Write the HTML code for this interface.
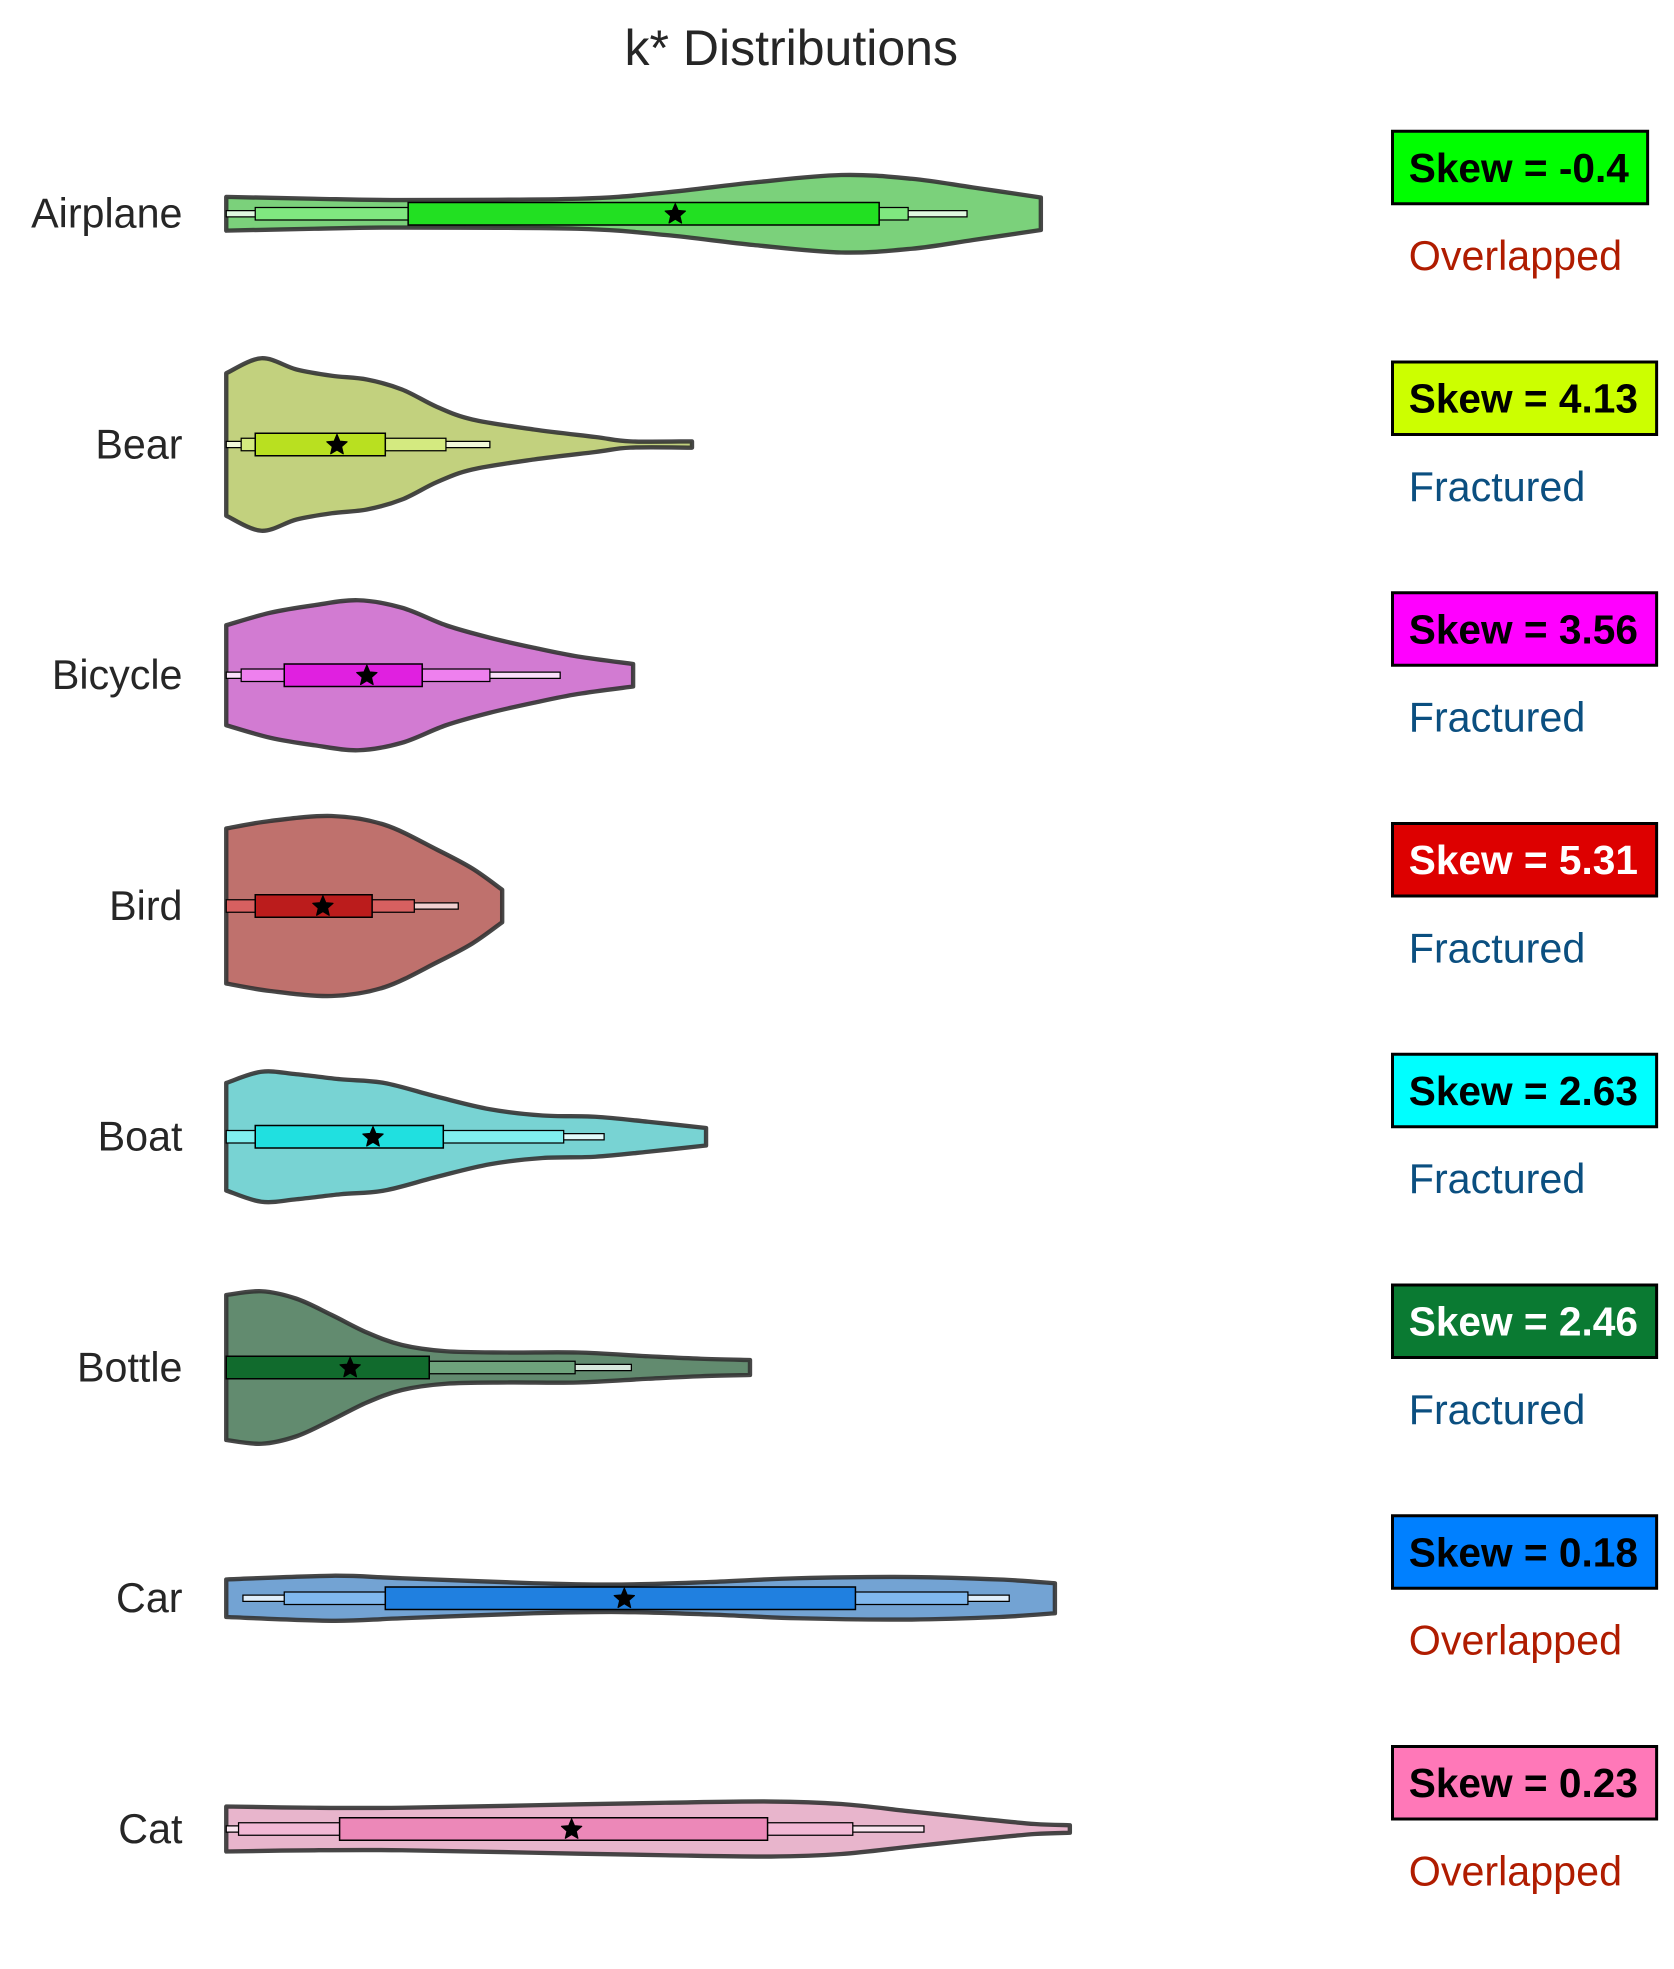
<!DOCTYPE html>
<html><head><meta charset="utf-8"><title>k* Distributions</title>
<style>html,body{margin:0;padding:0;background:#fff}svg{display:block}text{font-family:"Liberation Sans",Arial,sans-serif}</style>
</head><body>
<svg id="chart" width="1674" height="1969" viewBox="0 0 1339.2 1575.2" xmlns="http://www.w3.org/2000/svg">
<rect width="1339.2" height="1575.2" fill="#fff"/>
<text x="633" y="52" font-size="40" text-anchor="middle" fill="#262626">k* Distributions</text>
<g id="plot"></g>
</svg>
<script>
const categories = ["Airplane","Bear","Bicycle","Bird","Boat","Bottle","Car","Cat"];
const skewValues = ["-0.4","4.13","3.56","5.31","2.63","2.46","0.18","0.23"];
const shapeLabels = ["Overlapped","Fractured","Fractured","Fractured","Fractured","Fractured","Overlapped","Overlapped"];
// density profiles: [value, density]
const densities = [
 [[0,13.5],[10,12],[20,11],[40,12],[50,17],[60,25],[70,31],[78,28],[85,21],[92.7,13]],
 [[0,57],[4,69],[8,60],[12,55],[16,52],[20,44],[24,30],[28,20],[35,12],[42,6],[46,2.5],[53,2.5]],
 [[0,40],[5,50],[10,56],[15,60],[20,54],[25,40],[30,30],[35,22],[40,15],[46.3,9]],
 [[0,62],[5,68],[12,72],[18,65],[24,45],[28,30],[31.4,13]],
 [[0,43],[4,52],[8,50],[13,46],[18,43],[24,32],[30,22],[36,17],[42,16],[48,12],[54.6,7]],
 [[0,58],[4,61],[8,55],[12,42],[16,28],[20,18],[25,13],[32,12],[40,12],[48,9],[54,7],[59.6,6]],
 [[0,15],[12,18],[20,16],[35,12],[45,11],[55,13],[65,16],[78,17],[88,15],[94.3,12]],
 [[0,18],[10,17],[20,17],[35,19],[50,21],[62,22],[70,20],[78,14],[86,8],[92,4],[96,3]]
];
// letter-value boxes: [lo, hi] for whisker, level2, main
const whiskers = [[0,84.3],[0,30],[0,38],[0,26.4],[0,43],[0,46.1],[1.9,89.1],[0,79.4]];
const level2 = [[3.3,77.6],[1.7,25],[1.7,30],[0,21.4],[0,38.4],[0,39.7],[6.6,84.4],[1.4,71.3]];
const mainBox = [[20.7,74.3],[3.3,18.1],[6.6,22.3],[3.3,16.6],[3.3,24.7],[0,23.1],[18.1,71.6],[12.9,61.6]];
const medians = [51.1,12.6,16,11,16.7,14.1,45.3,39.3];

const fills = ["#7bd17b","#c2d17e","#d27bd2","#bf716d","#78d3d3","#628b6f","#73a3d3","#e8b5cc"];
const mainCol = ["#22e022","#b9e020","#e020e0","#bb1c1c","#20e0e0","#116b2d","#2080e0","#ec88b8"];
const l2Col = ["#80e880","#d4ea80","#ee80ee","#d76060","#80eeee","#6ea37c","#80b8ee","#f2b8d5"];
const thinCol = ["#e0f8e0","#f2f8d8","#fae0fa","#f0d0d0","#e0fafa","#d8e8dc","#e0eefa","#fae6f0"];
const skewBg = ["#00ff00","#ccff00","#ff00ff","#dd0000","#00ffff","#0a7a32","#0080ff","#ff78b8"];
const skewFg = ["#000","#000","#000","#fff","#000","#fff","#000","#000"];

const NS="http://www.w3.org/2000/svg";
const plot=document.getElementById('plot');
const xs = v => 181 + v*7.03;
const ys = i => 171 + i*184.6;
function mk(tag, attrs, parent){const e=document.createElementNS(NS,tag);for(const k in attrs)e.setAttribute(k,attrs[k]);(parent||plot).appendChild(e);return e;}
function smooth(pts){let d="";for(let i=0;i<pts.length-1;i++){const p0=pts[Math.max(i-1,0)],p1=pts[i],p2=pts[i+1],p3=pts[Math.min(i+2,pts.length-1)];
 const c1=[p1[0]+(p2[0]-p0[0])/6,p1[1]+(p2[1]-p0[1])/6],c2=[p2[0]-(p3[0]-p1[0])/6,p2[1]-(p3[1]-p1[1])/6];
 d+=` C${c1[0].toFixed(2)},${c1[1].toFixed(2)} ${c2[0].toFixed(2)},${c2[1].toFixed(2)} ${p2[0].toFixed(2)},${p2[1].toFixed(2)}`;}return d;}
function star(cx,cy,r){let p=[];for(let k=0;k<10;k++){const a=-Math.PI/2+k*Math.PI/5,rr=k%2?r*0.45:r;p.push((cx+rr*Math.cos(a)).toFixed(2)+","+(cy+rr*Math.sin(a)).toFixed(2));}return p.join(" ");}

categories.forEach((cat,i)=>{
 const cy=ys(i);
 const g=mk('g',{});
 
 
 const top=densities[i].map(p=>[xs(p[0]),cy-p[1]]);
 const bot=densities[i].map(p=>[xs(p[0]),cy+p[1]]).reverse();
 const d=`M${top[0][0]},${top[0][1]}`+smooth(top)+` L${bot[0][0]},${bot[0][1]}`+smooth(bot)+"Z";
 const vp=mk('path',{d:d,fill:fills[i],stroke:"#333","stroke-opacity":"0.9","stroke-width":"3.5","stroke-linejoin":"round"},g);
 
 
 const w=mk('rect',{x:xs(whiskers[i][0]),y:cy-2.5,width:xs(whiskers[i][1])-xs(whiskers[i][0]),height:5,fill:thinCol[i],stroke:"#000","stroke-width":"1"},g);
 
 
 const b2=mk('rect',{x:xs(level2[i][0]),y:cy-5,width:xs(level2[i][1])-xs(level2[i][0]),height:10,fill:l2Col[i],stroke:"#000","stroke-width":"1"},g);
 
 
 const b1=mk('rect',{x:xs(mainBox[i][0]),y:cy-9,width:xs(mainBox[i][1])-xs(mainBox[i][0]),height:18,fill:mainCol[i],stroke:"#000","stroke-width":"1.2"},g);
 
 
 const s=mk('polygon',{points:star(xs(medians[i]),cy+0.5,8.5),fill:"#000",stroke:"#000","stroke-width":"1","stroke-linejoin":"round"},g);
 
 
 const lab=mk('text',{x:146,y:cy+11,"font-size":"33","text-anchor":"end",fill:"#262626"},plot);
 lab.textContent=cat;
 
 
 // skew box
 const sy=cy-37;
 const br=mk('rect',{x:1114,y:sy-29,width:210,height:58,fill:skewBg[i],stroke:"#000","stroke-width":"2.4"},plot);
 
 
 const st=mk('text',{x:1127,y:sy+11.5,"font-size":"32.5","font-weight":"bold",fill:skewFg[i]},plot);
 st.textContent="Skew = "+skewValues[i];
 
 
 const tw=st.getComputedTextLength();
 br.setAttribute('width',(tw+28).toFixed(1));
 const sl=mk('text',{x:1127,y:cy+45,"font-size":"33",fill:shapeLabels[i]==="Overlapped"?"#b01c00":"#0b4f80"},plot);
 sl.textContent=shapeLabels[i];
 
 
});
</script>
</body></html>
